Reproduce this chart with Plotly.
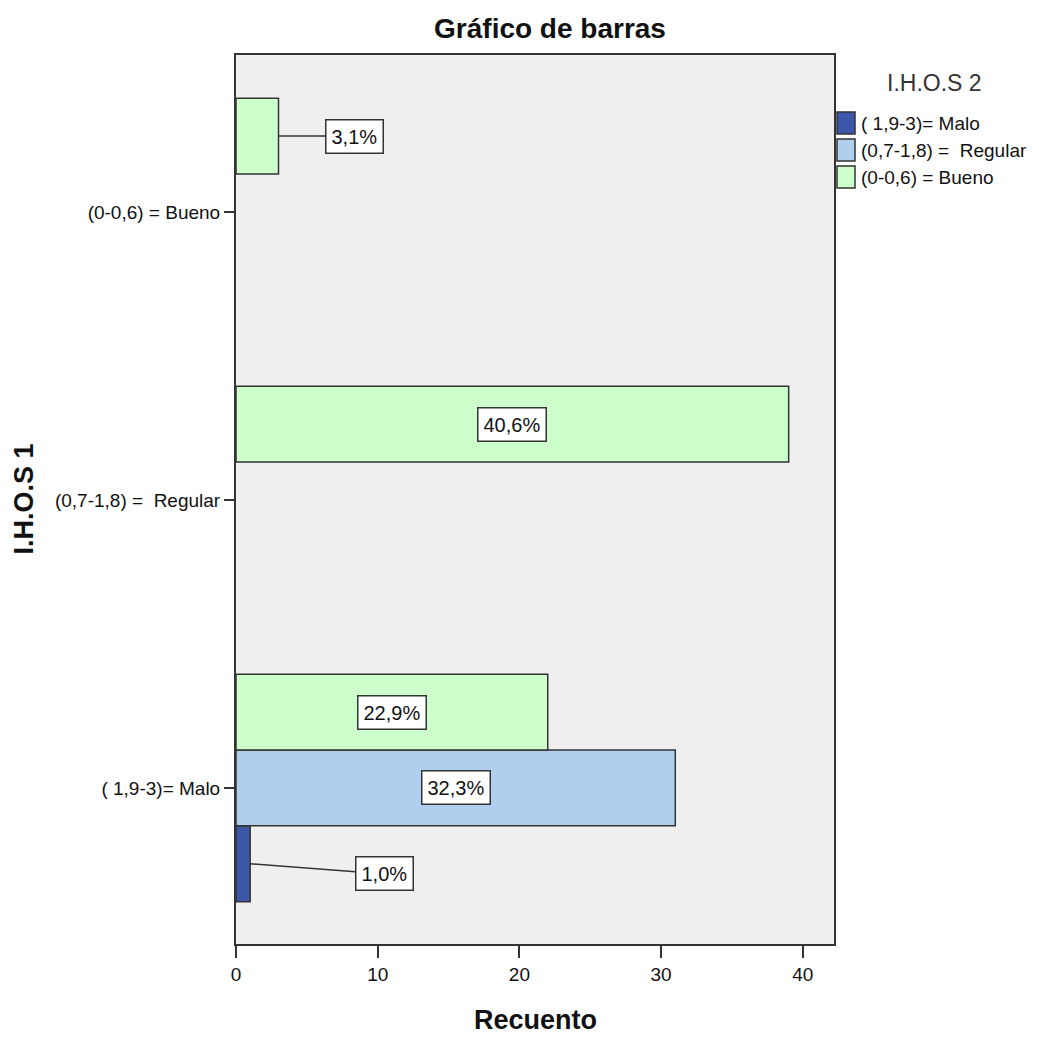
import plotly.graph_objects as go

# Categories of I.H.O.S 1 (bottom to top on the vertical axis)
categories = ["( 1,9-3)= Malo", "(0,7-1,8) =\u00a0 Regular", "(0-0,6) = Bueno"]
# Series of I.H.O.S 2
series_names = ["( 1,9-3)= Malo", "(0,7-1,8) =\u00a0 Regular", "(0-0,6) = Bueno"]
malo_counts = [1, None, None]
regular_counts = [31, None, None]
bueno_counts = [22, 39, 3]
x_ticks = [0, 10, 20, 30, 40]

series_counts = [malo_counts, regular_counts, bueno_counts]
series_colors = ["#3c56a9", "#aed0ee", "#ccffcc"]

FONT = "Liberation Sans, Arial, sans-serif"
EDGE = "#333333"
BARGAP = 0.21

total = sum(v for s in series_counts for v in s if v is not None)
cat_pos = list(range(len(categories)))

fig = go.Figure()
for name, counts, color in zip(series_names, series_counts, series_colors):
    fig.add_trace(go.Bar(
        y=cat_pos, x=counts, name=name, orientation="h",
        marker=dict(color=color, line=dict(color=EDGE, width=1.5)),
        showlegend=False, hoverinfo="x+name",
    ))

# Percentage labels; short bars get a callout box joined by a leader line
slot = (1 - BARGAP) / len(series_names)
callouts = {(0, 0): (10.45, -0.035), (2, 2): (8.35, 0.0)}
annotations = []
for si, counts in enumerate(series_counts):
    offset = (si - (len(series_names) - 1) / 2) * slot
    for ci, v in enumerate(counts):
        if v is None:
            continue
        pct = f"{v / total * 100:.1f}%".replace(".", ",")
        y = ci + offset
        box = dict(text=pct, font=dict(family=FONT, size=20, color="#111"),
                   bgcolor="white", bordercolor=EDGE, borderwidth=1.5, borderpad=5)
        if (si, ci) in callouts:
            tx, dy = callouts[(si, ci)]
            annotations.append(dict(x=v, y=y, xref="x", yref="y",
                                    ax=tx, ay=y + dy, axref="x", ayref="y",
                                    showarrow=True, arrowhead=0, arrowwidth=1.5,
                                    arrowcolor=EDGE, standoff=0, **box))
        else:
            annotations.append(dict(x=v / 2, y=y, xref="x", yref="y",
                                    showarrow=False, **box))

# Axis titles
annotations.append(dict(text="<b>Recuento</b>", x=0.5, y=-0.085, xref="paper", yref="paper",
                        xanchor="center", yanchor="middle", showarrow=False,
                        font=dict(family=FONT, size=27, color="#111")))
annotations.append(dict(text="<b>I.H.O.S 1</b>", x=-0.356, y=0.5, xref="paper", yref="paper",
                        xanchor="center", yanchor="middle", showarrow=False, textangle=-90,
                        font=dict(family=FONT, size=27, color="#111")))

# Legend block to the right of the plot
PLOT_L, PLOT_R, PLOT_T, PLOT_B = 236, 834, 55, 944
def px_x(p):
    return (p - PLOT_L) / (PLOT_R - PLOT_L)
def px_y(p):
    return (PLOT_B - p) / (PLOT_B - PLOT_T)

annotations.append(dict(text="I.H.O.S 2", x=px_x(934), y=px_y(83), xref="paper", yref="paper",
                        xanchor="center", yanchor="middle", showarrow=False,
                        font=dict(family=FONT, size=23, color="#333")))
shapes = []
row_top, row_h, row_step = 112, 22, 27
for i, (name, color) in enumerate(zip(series_names, series_colors)):
    top = row_top + i * row_step
    shapes.append(dict(type="rect", xref="paper", yref="paper",
                       x0=px_x(837), x1=px_x(855), y0=px_y(top + row_h), y1=px_y(top),
                       fillcolor=color, line=dict(color=EDGE, width=1.5)))
    annotations.append(dict(text=name, x=px_x(859), y=px_y(top + row_h / 2),
                            xref="paper", yref="paper", xanchor="left", yanchor="middle",
                            showarrow=False, font=dict(family=FONT, size=19, color="#111")))

fig.update_layout(
    width=1039, height=1037,
    margin=dict(l=PLOT_L, r=1039 - PLOT_R, t=PLOT_T, b=1037 - PLOT_B),
    paper_bgcolor="white", plot_bgcolor="#efefef",
    barmode="group", bargap=BARGAP, bargroupgap=0,
    title=dict(text="<b>Gráfico de barras</b>", x=550 / 1039, xanchor="center",
               y=1 - 28 / 1037, yanchor="middle", xref="container", yref="container",
               font=dict(family=FONT, size=28, color="#111")),
    font=dict(family=FONT, size=19, color="#111"),
    xaxis=dict(range=[0, 42.2], tickvals=x_ticks, ticks="outside", ticklen=12,
               tickwidth=1.5, tickcolor=EDGE, showline=True, linecolor=EDGE, linewidth=2,
               mirror=True, showgrid=False, zeroline=False,
               tickfont=dict(family=FONT, size=19, color="#111")),
    yaxis=dict(range=[-0.542, 2.545], tickvals=cat_pos, ticktext=categories,
               ticks="outside", ticklen=10, tickwidth=1.5, tickcolor=EDGE,
               showline=True, linecolor=EDGE, linewidth=2, mirror=True,
               showgrid=False, zeroline=False,
               tickfont=dict(family=FONT, size=19, color="#111")),
    annotations=annotations, shapes=shapes,
)

fig.write_html("out.html")
